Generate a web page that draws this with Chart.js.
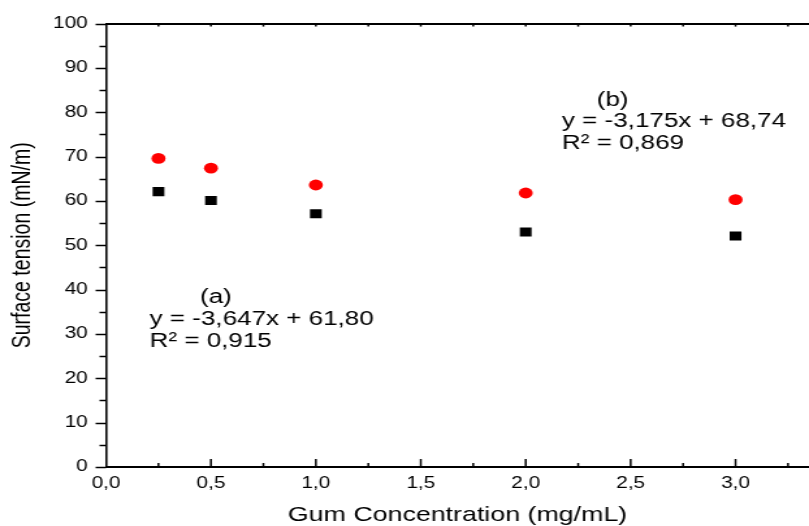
<!DOCTYPE html>
<html>
<head>
<meta charset="utf-8">
<script src="https://cdn.jsdelivr.net/npm/chart.js@4"></script>
<style>
  html, body { margin: 0; padding: 0; background: #fff; overflow: hidden; }
  canvas { display: block; }
</style>
</head>
<body>
<!-- the original is stretched horizontally, so the canvas is drawn narrow and widened by CSS -->
<canvas id="myChart" width="622" height="526" style="width:809px;height:526px"></canvas>
<script>
const concentrations = [0.25, 0.5, 1.0, 2.0, 3.0];
const seriesA = [62.1, 60.1, 57.1, 53.0, 52.1];
const seriesB = [69.6, 67.4, 63.6, 61.8, 60.3];
const yTicks = [0, 10, 20, 30, 40, 50, 60, 70, 80, 90, 100];
const xTicks = [0, 0.5, 1.0, 1.5, 2.0, 2.5, 3.0];

const labelA = ['(a)', 'y = -3,647x + 61,80', 'R² = 0,915'];
const labelB = ['(b)', 'y = -3,175x + 68,74', 'R² = 0,869'];

const FONT = 'Liberation Sans, Arial, sans-serif';

const toPoints = (ys) => concentrations.map((x, i) => ({x: x, y: ys[i]}));

// minor/major ticks like the original (y outward, bottom inward, top inward)
const tickMarks = {
    id: 'tickMarks',
    afterDraw(chart) {
        const ctx = chart.ctx;
        const {x, y} = chart.scales;
        const area = chart.chartArea;
        ctx.save();
        ctx.strokeStyle = '#000';
        ctx.lineWidth = 1.5;
        for (let v = 0; v <= 100; v += 5) {
            const py = Math.round(y.getPixelForValue(v)) + 0.5;
            const len = v % 10 === 0 ? 8 : 5;
            ctx.beginPath();
            ctx.moveTo(area.left, py);
            ctx.lineTo(area.left - len, py);
            ctx.stroke();
        }
        for (let v = 0.25; v <= 3.3; v += 0.25) {
            const px = x.getPixelForValue(v);
            const major = Math.abs(v * 2 - Math.round(v * 2)) < 1e-6;
            ctx.beginPath();
            ctx.moveTo(px, area.bottom);
            ctx.lineTo(px, area.bottom - (major ? 8 : 4));
            ctx.stroke();
            ctx.beginPath();
            ctx.moveTo(px, area.top);
            ctx.lineTo(px, area.top + 3);
            ctx.stroke();
        }
        ctx.restore();
    }
};

const fitNotes = {
    id: 'fitNotes',
    afterDraw(chart) {
        const ctx = chart.ctx;
        ctx.save();
        ctx.fillStyle = '#000';
        ctx.font = '20px ' + FONT;
        ctx.textBaseline = 'middle';
        const put = (lines, cx, left, ys) => {
            ctx.textAlign = 'center';
            ctx.fillText(lines[0], cx, ys[0]);
            ctx.textAlign = 'left';
            ctx.fillText(lines[1], left, ys[1]);
            ctx.fillText(lines[2], left, ys[2]);
        };
        put(labelB, 471, 432, [100, 121, 143]);
        put(labelA, 166, 115, [297, 319, 341]);
        ctx.restore();
    }
};

new Chart(document.getElementById('myChart'), {
    type: 'scatter',
    data: {
        datasets: [
            {
                label: '(a)',
                data: toPoints(seriesA),
                pointStyle: 'rect',
                pointRadius: 6.4,
                backgroundColor: '#000',
                borderColor: '#000',
                borderWidth: 0
            },
            {
                label: '(b)',
                data: toPoints(seriesB),
                pointStyle: 'circle',
                pointRadius: 5.4,
                backgroundColor: '#ff0000',
                borderColor: '#ff0000',
                borderWidth: 0
            }
        ]
    },
    options: {
        responsive: false,
        animation: false,
        devicePixelRatio: 1,
        layout: { padding: 0, autoPadding: false },
        plugins: {
            legend: { display: false },
            tooltip: { enabled: false }
        },
        scales: {
            x: {
                type: 'linear',
                position: 'bottom',
                min: 0,
                max: 3.35,
                afterBuildTicks: (axis) => { axis.ticks = xTicks.map(v => ({value: v})); },
                afterFit: (axis) => { axis.height = 59; },
                grid: { display: false, drawTicks: false },
                border: { display: true, color: '#000', width: 2 },
                ticks: {
                    color: '#000',
                    padding: 7,
                    maxRotation: 0,
                    font: { family: FONT, size: 16 },
                    callback: (v) => Number(v).toFixed(1).replace('.', ',')
                },
                title: {
                    display: true,
                    text: 'Gum Concentration (mg/mL)',
                    color: '#000',
                    font: { family: FONT, size: 20.6, lineHeight: 1 },
                    padding: { top: 0, bottom: 0 }
                }
            },
            xTop: {
                type: 'linear',
                position: 'top',
                min: 0,
                max: 3.35,
                afterFit: (axis) => { axis.height = 19; },
                grid: { display: false, drawTicks: false },
                border: { display: true, color: '#000', width: 2 },
                ticks: { display: false }
            },
            y: {
                type: 'linear',
                min: 0,
                max: 100,
                afterBuildTicks: (axis) => { axis.ticks = yTicks.map(v => ({value: v})); },
                afterFit: (axis) => { axis.width = 81.5; },
                grid: { display: false, drawTicks: false },
                border: { display: true, color: '#000', width: 1.6 },
                ticks: {
                    color: '#000',
                    padding: 14,
                    font: { family: FONT, size: 16 }
                },
                title: {
                    display: true,
                    text: 'Surface tension (mN/m)',
                    color: '#000',
                    font: { family: FONT, size: 19.5 },
                    padding: { top: 6, bottom: 0 }
                }
            }
        }
    },
    plugins: [tickMarks, fitNotes]
});
</script>
</body>
</html>
